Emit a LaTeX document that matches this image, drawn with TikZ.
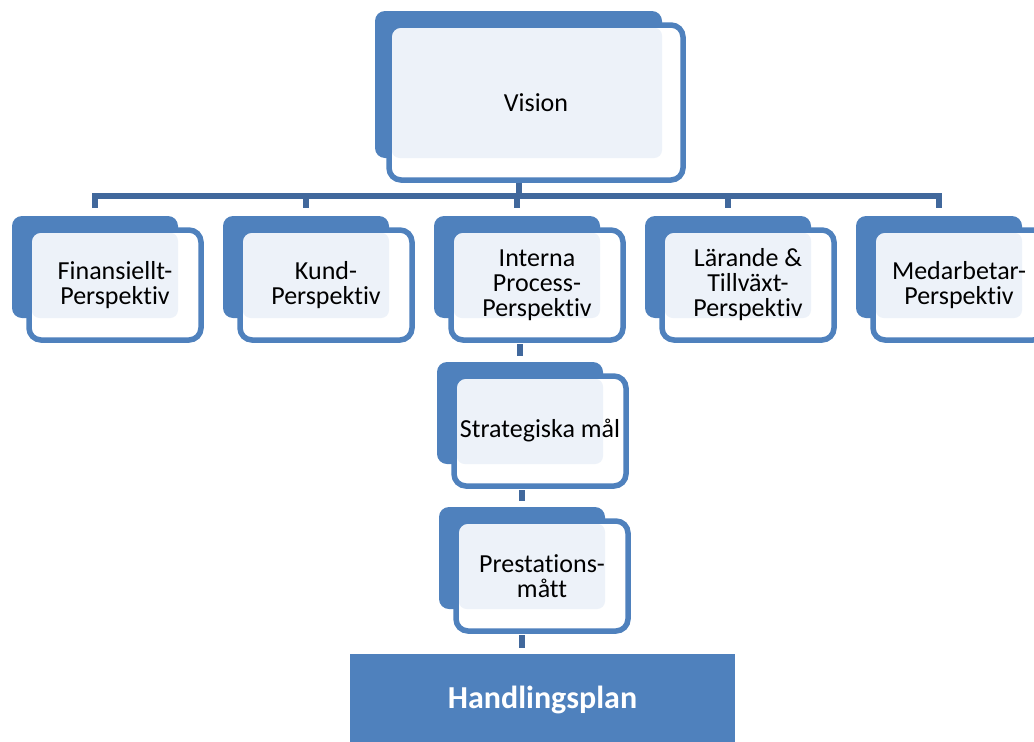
\documentclass[tikz,border=0pt]{standalone}
\usepackage{fontspec}
\setmainfont{Carlito}[Ligatures=NoCommon]
\usetikzlibrary{backgrounds}

\definecolor{boxblue}{RGB}{79,129,189}
\definecolor{boxlight}{RGB}{237,242,249}
\definecolor{linkblue}{RGB}{65,104,156}

\begin{document}
\begin{tikzpicture}[x=1pt,y=-1pt,
      backbox/.style={fill=boxblue,rounded corners=10pt,anchor=north west,
        inner sep=0pt,outer sep=0pt,minimum width=166pt,minimum height=102pt},
      frontbox/.style={fill=white,draw=boxblue,line width=5.5pt,rounded corners=12pt,
        anchor=north west,inner sep=0pt,outer sep=0pt,
        minimum width=172pt,minimum height=110pt,align=center,
        font=\fontsize{26}{25}\selectfont,
        path picture={\fill[boxlight,rounded corners=8pt]
          ([xshift=2.75pt,yshift=-2.75pt]path picture bounding box.north west)
          rectangle (#1.south east);}},
      planbox/.style={fill=boxblue,anchor=north west,inner sep=0pt,outer sep=0pt,
        minimum width=385pt,minimum height=92pt,text=white,
        font=\fontsize{32}{34}\selectfont\bfseries},
      link/.style={draw=linkblue,line width=6pt}]
    \useasboundingbox (0,0) rectangle (1034,742);

    % vision
    \node[backbox,minimum width=287pt,minimum height=147pt] (visB) at (375,11) {};
    \node[frontbox=visB,minimum width=294pt,minimum height=155pt] (vis)
      at ([shift={(14,14)}]visB.north west) {Vision};

    % perspectives
    \node[backbox] (finB) at (12,216) {};
    \node[frontbox=finB] (fin) at ([shift={(17,14)}]finB.north west)
      {Finansiellt-\\Perspektiv};
    \node[backbox] (kundB) at (223,216) {};
    \node[frontbox=kundB] (kund) at ([shift={(17,14)}]kundB.north west)
      {Kund-\\Perspektiv};
    \node[backbox] (intB) at (434,216) {};
    \node[frontbox=intB] (int) at ([shift={(17,14)}]intB.north west)
      {Interna\\Process-\\Perspektiv};
    \node[backbox] (larB) at (645,216) {};
    \node[frontbox=larB] (lar) at ([shift={(17,14)}]larB.north west)
      {Lärande \&\\Tillväxt-\\Perspektiv};
    \node[backbox] (medB) at (856,216) {};
    \node[frontbox=medB] (med) at ([shift={(17,14)}]medB.north west)
      {Medarbetar-\\Perspektiv};

    % chain below
    \node[backbox] (strB) at (437,362) {};
    \node[frontbox=strB] (str) at ([shift={(17,14)}]strB.north west)
      {Strategiska mål};
    \node[backbox] (preB) at (439,507) {};
    \node[frontbox=preB] (pre) at ([shift={(17,14)}]preB.north west)
      {Prestations-\\mått};
    \node[planbox] (plan) at (350,654) {Handlingsplan};

    % connectors
    \begin{scope}[on background layer]
      \coordinate (bar) at (0,196);
      \draw[link] (visB.south) -- (visB.south |- bar);
      \draw[link] ([yshift=8pt]finB.north) |- (medB.north |- bar)
        -- ([yshift=8pt]medB.north);
      \foreach \n in {kundB,intB,larB}
        \draw[link] (\n.north |- bar) -- ([yshift=8pt]\n.north);
      \draw[link] ([yshift=-4pt]int.south -| strB.north) -- ([yshift=6pt]strB.north);
      \draw[link] ([yshift=-4pt]str.south -| preB.north) -- ([yshift=6pt]preB.north);
      \draw[link] ([yshift=-4pt]pre.south -| preB.north) -- ([yshift=6pt]plan.north -| preB.north);
    \end{scope}
  \end{tikzpicture}
\end{document}
